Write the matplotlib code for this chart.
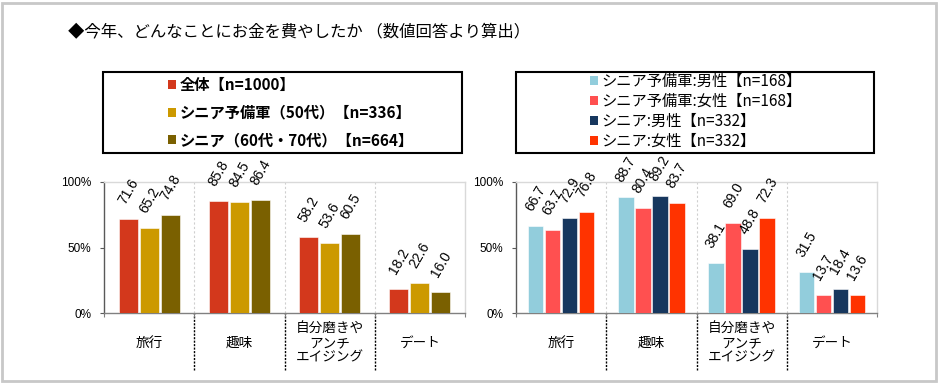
import matplotlib
matplotlib.use("Agg")
import matplotlib.pyplot as plt
from matplotlib.patches import Rectangle, Patch
import numpy as np

plt.rcParams['font.family'] = ['Noto Sans CJK JP', 'DejaVu Sans']

title = "◆今年、どんなことにお金を費やしたか （数値回答より算出）"
categories = ["旅行", "趣味", "自分磨きや\nアンチ\nエイジング", "デート"]

left_names = ["全体【n=1000】", "シニア予備軍（50代）【n=336】", "シニア（60代・70代）【n=664】"]
all_total = [71.6, 85.8, 58.2, 18.2]
pre_senior = [65.2, 84.5, 53.6, 22.6]
senior = [74.8, 86.4, 60.5, 16.0]
left_colors = ["#D3381C", "#CC9900", "#7A6000"]

right_names = ["シニア予備軍:男性【n=168】", "シニア予備軍:女性【n=168】",
               "シニア:男性【n=332】", "シニア:女性【n=332】"]
pre_male = [66.7, 88.7, 38.1, 31.5]
pre_female = [63.7, 80.4, 69.0, 13.7]
senior_male = [72.9, 89.2, 48.8, 18.4]
senior_female = [76.8, 83.7, 72.3, 13.6]
right_colors = ["#92CDDC", "#FF5050", "#17375E", "#FF3300"]

W, H = 940, 383
fig = plt.figure(figsize=(W / 100, H / 100), dpi=100)

def fx(px):
    return px / W

def fy(py):
    return 1 - py / H

# outer border
fig.patches.append(Rectangle((fx(1.5), fy(381)), fx(934), (380 - 1.5) / H, transform=fig.transFigure,
                             fill=False, edgecolor="#C8C8C8", linewidth=2))

fig.text(fx(68), fy(33), title, fontsize=11.8, ha="left", va="center", color="black")

num_font = ["Liberation Sans", "DejaVu Sans"]


def draw_panel(ax_rect, series, colors, width, step):
    ax = fig.add_axes(ax_rect)
    x = np.arange(len(categories))
    n = len(series)
    for i, (vals, c) in enumerate(zip(series, colors)):
        pos = x + (i - (n - 1) / 2) * step
        ax.bar(pos, vals, width=width, color=c, edgecolor="white", linewidth=0.4, zorder=3)
        for p, v in zip(pos, vals):
            ax.annotate(f"{v:.1f}", xy=(p, v), xytext=(0, 9), textcoords="offset points",
                        rotation=60, ha="center", va="bottom", fontsize=10,
                        family=num_font, annotation_clip=False)
    ax.set_xlim(-0.5, len(categories) - 0.5)
    ax.set_ylim(0, 100)
    ax.set_yticks([0, 50, 100])
    ax.set_yticklabels(["0%", "50%", "100%"], family=num_font, fontsize=8.5)
    ax.set_xticks(np.arange(-0.5, len(categories), 1.0))
    ax.set_xticklabels([])
    ax.tick_params(axis="y", direction="out", length=3, pad=6, color="#595959")
    ax.tick_params(axis="x", direction="out", length=3, color="#808080")
    ax.spines["left"].set_color("#595959")
    ax.spines["bottom"].set_color("#808080")
    ax.spines["top"].set_color("#D9D9D9")
    ax.spines["right"].set_color("#D9D9D9")
    for s in ax.spines.values():
        s.set_linewidth(1.0)
    bounds = np.arange(0.5, len(categories) - 1, 1.0)
    ax.vlines(bounds, 0, 100, colors="#CFCFCF", linestyles=(0, (2, 2)), linewidth=0.8, zorder=1)
    ax.vlines(bounds, -43.5, 0, colors="black", linestyles=(0, (1.5, 1)), linewidth=1.0,
              clip_on=False, zorder=1)
    for i, lab in enumerate(categories):
        ax.annotate(lab, xy=(i, 0), xycoords=("data", "data"), xytext=(0, -21.6),
                    textcoords="offset points", ha="center", va="center", fontsize=9.8,
                    linespacing=1.0, annotation_clip=False)
    return ax


axL = draw_panel([fx(104), fy(313), fx(361), 131 / H],
                 [all_total, pre_senior, senior], left_colors, 0.21, 0.233)
axR = draw_panel([fx(516), fy(313), fx(361), 131 / H],
                 [pre_male, pre_female, senior_male, senior_female], right_colors, 0.172, 0.189)

# legend boxes
fig.patches.append(Rectangle((fx(103), fy(153)), fx(359), 81 / H, transform=fig.transFigure,
                             fill=False, edgecolor="black", linewidth=1.5))
fig.patches.append(Rectangle((fx(516), fy(153)), fx(358), 81 / H, transform=fig.transFigure,
                             fill=False, edgecolor="black", linewidth=1.5))

hL = [Patch(facecolor=c, edgecolor="none") for c in left_colors]
legL = fig.legend(hL, left_names, loc="upper left", bbox_to_anchor=(fx(168), fy(77)),
                  frameon=False, borderpad=0, borderaxespad=0, handlelength=0.5, handleheight=0.5,
                  handletextpad=0.25, labelspacing=0.76,
                  prop={"family": ["Noto Sans CJK JP", "DejaVu Sans"], "size": 11, "weight": "bold"})
hR = [Patch(facecolor=c, edgecolor="none") for c in right_colors]
legR = fig.legend(hR, right_names, loc="upper left", bbox_to_anchor=(fx(590), fy(73)),
                  frameon=False, borderpad=0, borderaxespad=0, handlelength=0.5, handleheight=0.5,
                  handletextpad=0.25, labelspacing=0.2,
                  prop={"family": ["Noto Sans CJK JP", "DejaVu Sans"], "size": 11})

fig.savefig("out.png", dpi=100)
